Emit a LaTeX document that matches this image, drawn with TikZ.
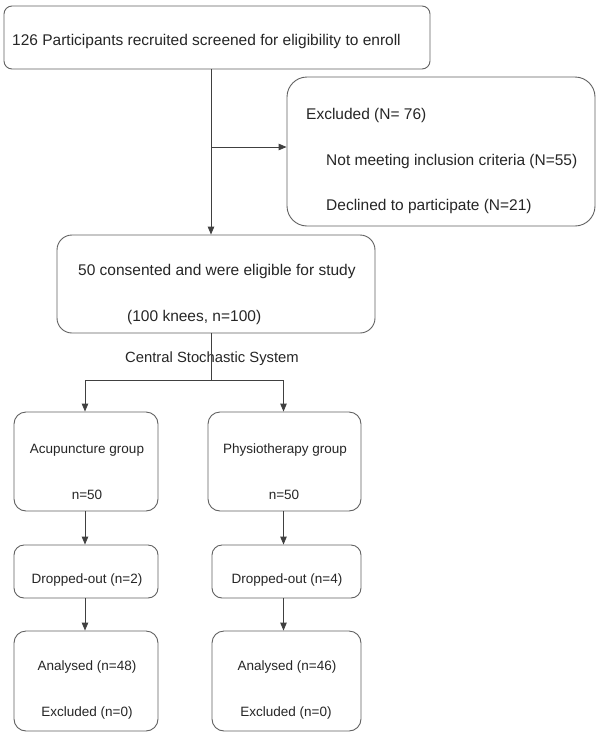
\documentclass[tikz,border=0pt]{standalone}
\usepackage{fontspec}
\setmainfont{Liberation Sans}
\usetikzlibrary{arrows.meta,calc}
\begin{document}
\begin{tikzpicture}[x=1pt,y=-1pt,
  box/.style={draw=black!62, line width=0.9pt, rounded corners=#1, inner sep=0pt},
  box/.default=10pt,
  big/.style={font=\fontsize{15.5}{18}\selectfont, text=black!85, inner sep=0pt},
  small/.style={font=\fontsize{13.5}{16}\selectfont, text=black!85, inner sep=0pt},
  conn/.style={draw=black!75, line width=0.9pt},
  arr/.style={conn, -{Triangle[length=8pt,width=6.5pt]}}]
\useasboundingbox (0,0) rectangle (600,737);
\fill[white] (0,0) rectangle (600,737);

% boxes
\node[box=8pt, minimum width=426pt, minimum height=63pt] (top) at (217,37.5) {};
\node[box=20pt, minimum width=308pt, minimum height=149pt] (excl) at (441,151.5) {};
\node[box=15pt, minimum width=318pt, minimum height=98pt] (mid) at (216,284) {};
\node[box=12pt, minimum width=144pt, minimum height=99pt] (acup) at (86,461.5) {};
\node[box=12pt, minimum width=153pt, minimum height=99pt] (phys) at (284.5,461.5) {};
\node[box=10pt, minimum width=144pt, minimum height=53pt] (dropL) at (86,571.5) {};
\node[box=10pt, minimum width=149pt, minimum height=53pt] (dropR) at (286.5,571.5) {};
\node[box=12pt, minimum width=144pt, minimum height=100pt] (anaL) at (86,681) {};
\node[box=12pt, minimum width=149pt, minimum height=100pt] (anaR) at (286.5,681) {};

% texts
\node[big, anchor=base west] (ttop) at (12,45) {126 Participants recruited screened for eligibility to enroll};
\node[big, anchor=base west] (tex1) at (306,119) {Excluded (N= 76)};
\node[big, anchor=base west] (tex2) at (326,165) {Not meeting inclusion criteria (N=55)};
\node[big, anchor=base west] (tex3) at (326,210) {Declined to participate (N=21)};
\node[big, anchor=base west] (tmid1) at (78,275) {50 consented and were eligible for study};
\node[big, anchor=base west] (tmid2) at (127,321) {(100 knees, n=100)};
\node[small, font=\fontsize{14.8}{17}\selectfont, anchor=base] (tcss) at (212,362) {Central Stochastic System};
\node[small, anchor=base] (tac1) at (87,453) {Acupuncture group};
\node[small, anchor=base] (tac2) at (87,499) {n=50};
\node[small, anchor=base] (tph1) at (285,453) {Physiotherapy group};
\node[small, anchor=base] (tph2) at (284,499) {n=50};
\node[small, anchor=base] (tdl) at (87,583) {Dropped-out (n=2)};
\node[small, anchor=base] (tdr) at (287,583) {Dropped-out (n=4)};
\node[small, anchor=base] (tal1) at (87,670) {Analysed (n=48)};
\node[small, anchor=base] (tal2) at (87,716) {Excluded (n=0)};
\node[small, anchor=base] (tar1) at (287,670) {Analysed (n=46)};
\node[small, anchor=base] (tar2) at (286,716) {Excluded (n=0)};

% connectors
\coordinate (spine) at (211,0);
\coordinate (exarrow) at (211,147);
\coordinate (split) at (211,380);
\coordinate (lx) at (85,0);
\coordinate (rx) at (283.5,0);

\draw[arr] (top.south -| spine) -- (mid.north -| spine);
\draw[arr] (exarrow) -- (exarrow -| excl.west);
\draw[conn] (mid.south -| spine) -- (split);
\draw[conn] (split -| lx) -- (split -| rx);
\draw[arr] (split -| lx) -- (acup.north -| lx);
\draw[arr] (split -| rx) -- (phys.north -| rx);
\draw[arr] (acup.south -| lx) -- (dropL.north -| lx);
\draw[arr] (phys.south -| rx) -- (dropR.north -| rx);
\draw[arr] (dropL.south -| lx) -- (anaL.north -| lx);
\draw[arr] (dropR.south -| rx) -- (anaR.north -| rx);
\end{tikzpicture}
\end{document}
